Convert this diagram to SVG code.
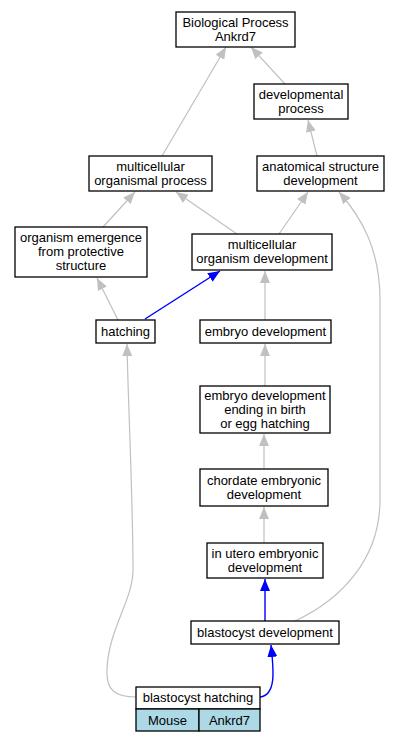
<svg xmlns="http://www.w3.org/2000/svg" width="401" height="741" viewBox="0 0 401 741">
<style>
.n rect{fill:#fff;stroke:#000;stroke-width:1.3}
.n text,.t text{font-family:"Liberation Sans",Arial,sans-serif;font-size:13px;text-anchor:middle;fill:#000}
.g{fill:none;stroke:#c0c0c0;stroke-width:1.2}
.b{fill:none;stroke:#0000ff;stroke-width:1.4}
.tc{fill:#add8e6;stroke:#000;stroke-width:1.3}
</style>
<defs>
<marker id="ag" markerUnits="userSpaceOnUse" markerWidth="12" markerHeight="10" refX="12" refY="5" orient="auto"><path d="M0,0 L12,5 L0,10 z" fill="#c0c0c0"/></marker>
<marker id="ab" markerUnits="userSpaceOnUse" markerWidth="12" markerHeight="10" refX="12" refY="5" orient="auto"><path d="M0,0 L12,5 L0,10 z" fill="#0000ff"/></marker>
</defs>
<rect width="401" height="741" fill="#fff"/>
<g id="edges">
<path class="g" marker-end="url(#ag)" d="M162,156 L226,47"/>
<path class="g" marker-end="url(#ag)" d="M285,84 L251,47"/>
<path class="g" marker-end="url(#ag)" d="M317,156 L308,120"/>
<path class="g" marker-end="url(#ag)" d="M103,227 L135,192"/>
<path class="g" marker-end="url(#ag)" d="M237,234 L176,192"/>
<path class="g" marker-end="url(#ag)" d="M279,234 L308,192"/>
<path class="g" marker-end="url(#ag)" d="M118,320 L97,278"/>
<path class="b" marker-end="url(#ab)" d="M145,319 L220,271"/>
<path class="g" marker-end="url(#ag)" d="M265,320 L265,271"/>
<path class="g" marker-end="url(#ag)" d="M265,386 L265,344"/>
<path class="g" marker-end="url(#ag)" d="M264,469 L264,434"/>
<path class="g" marker-end="url(#ag)" d="M264,543 L264,507"/>
<path class="b" marker-end="url(#ab)" d="M265,621 L265,579"/>
<path class="b" marker-end="url(#ab)" d="M260,697 C276,695 274,672 271,645"/>
<path class="g" marker-end="url(#ag)" d="M295,621 C340,600 380,560 380,500 L380,300 C380,250 362,218 339,192"/>
<path class="g" marker-end="url(#ag)" d="M136,697 C115,697 106,690 107,670 C108,630 133,600 133,570 C133,500 128,400 127,344"/>
</g>
<g id="bp" class="n"><rect x="176" y="12" width="119" height="35"/><text x="235.5" y="27">Biological Process</text><text x="235.5" y="41">Ankrd7</text></g>
<g id="dp" class="n"><rect x="254" y="84" width="94" height="35"/><text x="301" y="99">developmental</text><text x="301" y="113">process</text></g>
<g id="mop" class="n"><rect x="89" y="156" width="123" height="35"/><text x="150.5" y="171">multicellular</text><text x="150.5" y="185">organismal process</text></g>
<g id="asd" class="n"><rect x="257" y="156" width="127" height="35"/><text x="320.5" y="171">anatomical structure</text><text x="320.5" y="185">development</text></g>
<g id="oe" class="n"><rect x="15" y="227" width="132" height="50"/><text x="81" y="242">organism emergence</text><text x="81" y="256">from protective</text><text x="81" y="270">structure</text></g>
<g id="mod" class="n"><rect x="192" y="234" width="140" height="36"/><text x="262" y="249">multicellular</text><text x="262" y="263">organism development</text></g>
<g id="hatch" class="n"><rect x="96" y="320" width="59" height="23"/><text x="125.5" y="336">hatching</text></g>
<g id="ed" class="n"><rect x="200" y="320" width="131" height="23"/><text x="265.5" y="336">embryo development</text></g>
<g id="edeb" class="n"><rect x="200" y="386" width="130" height="47"/><text x="265" y="400">embryo development</text><text x="265" y="414">ending in birth</text><text x="265" y="428">or egg hatching</text></g>
<g id="ced" class="n"><rect x="200" y="469" width="128" height="37"/><text x="264" y="485">chordate embryonic</text><text x="264" y="499">development</text></g>
<g id="iued" class="n"><rect x="207" y="543" width="116" height="35"/><text x="265" y="558">in utero embryonic</text><text x="265" y="572">development</text></g>
<g id="bd" class="n"><rect x="191" y="621" width="148" height="23"/><text x="265" y="637">blastocyst development</text></g>
<g id="bh" class="n"><rect x="136" y="687" width="124" height="22"/><text x="198" y="702">blastocyst hatching</text></g>
<g id="table" class="t"><rect class="tc" x="136" y="709" width="63" height="22"/><rect class="tc" x="199" y="709" width="61" height="22"/><text x="167.5" y="724.5">Mouse</text><text x="229.5" y="724.5">Ankrd7</text></g>
</svg>
